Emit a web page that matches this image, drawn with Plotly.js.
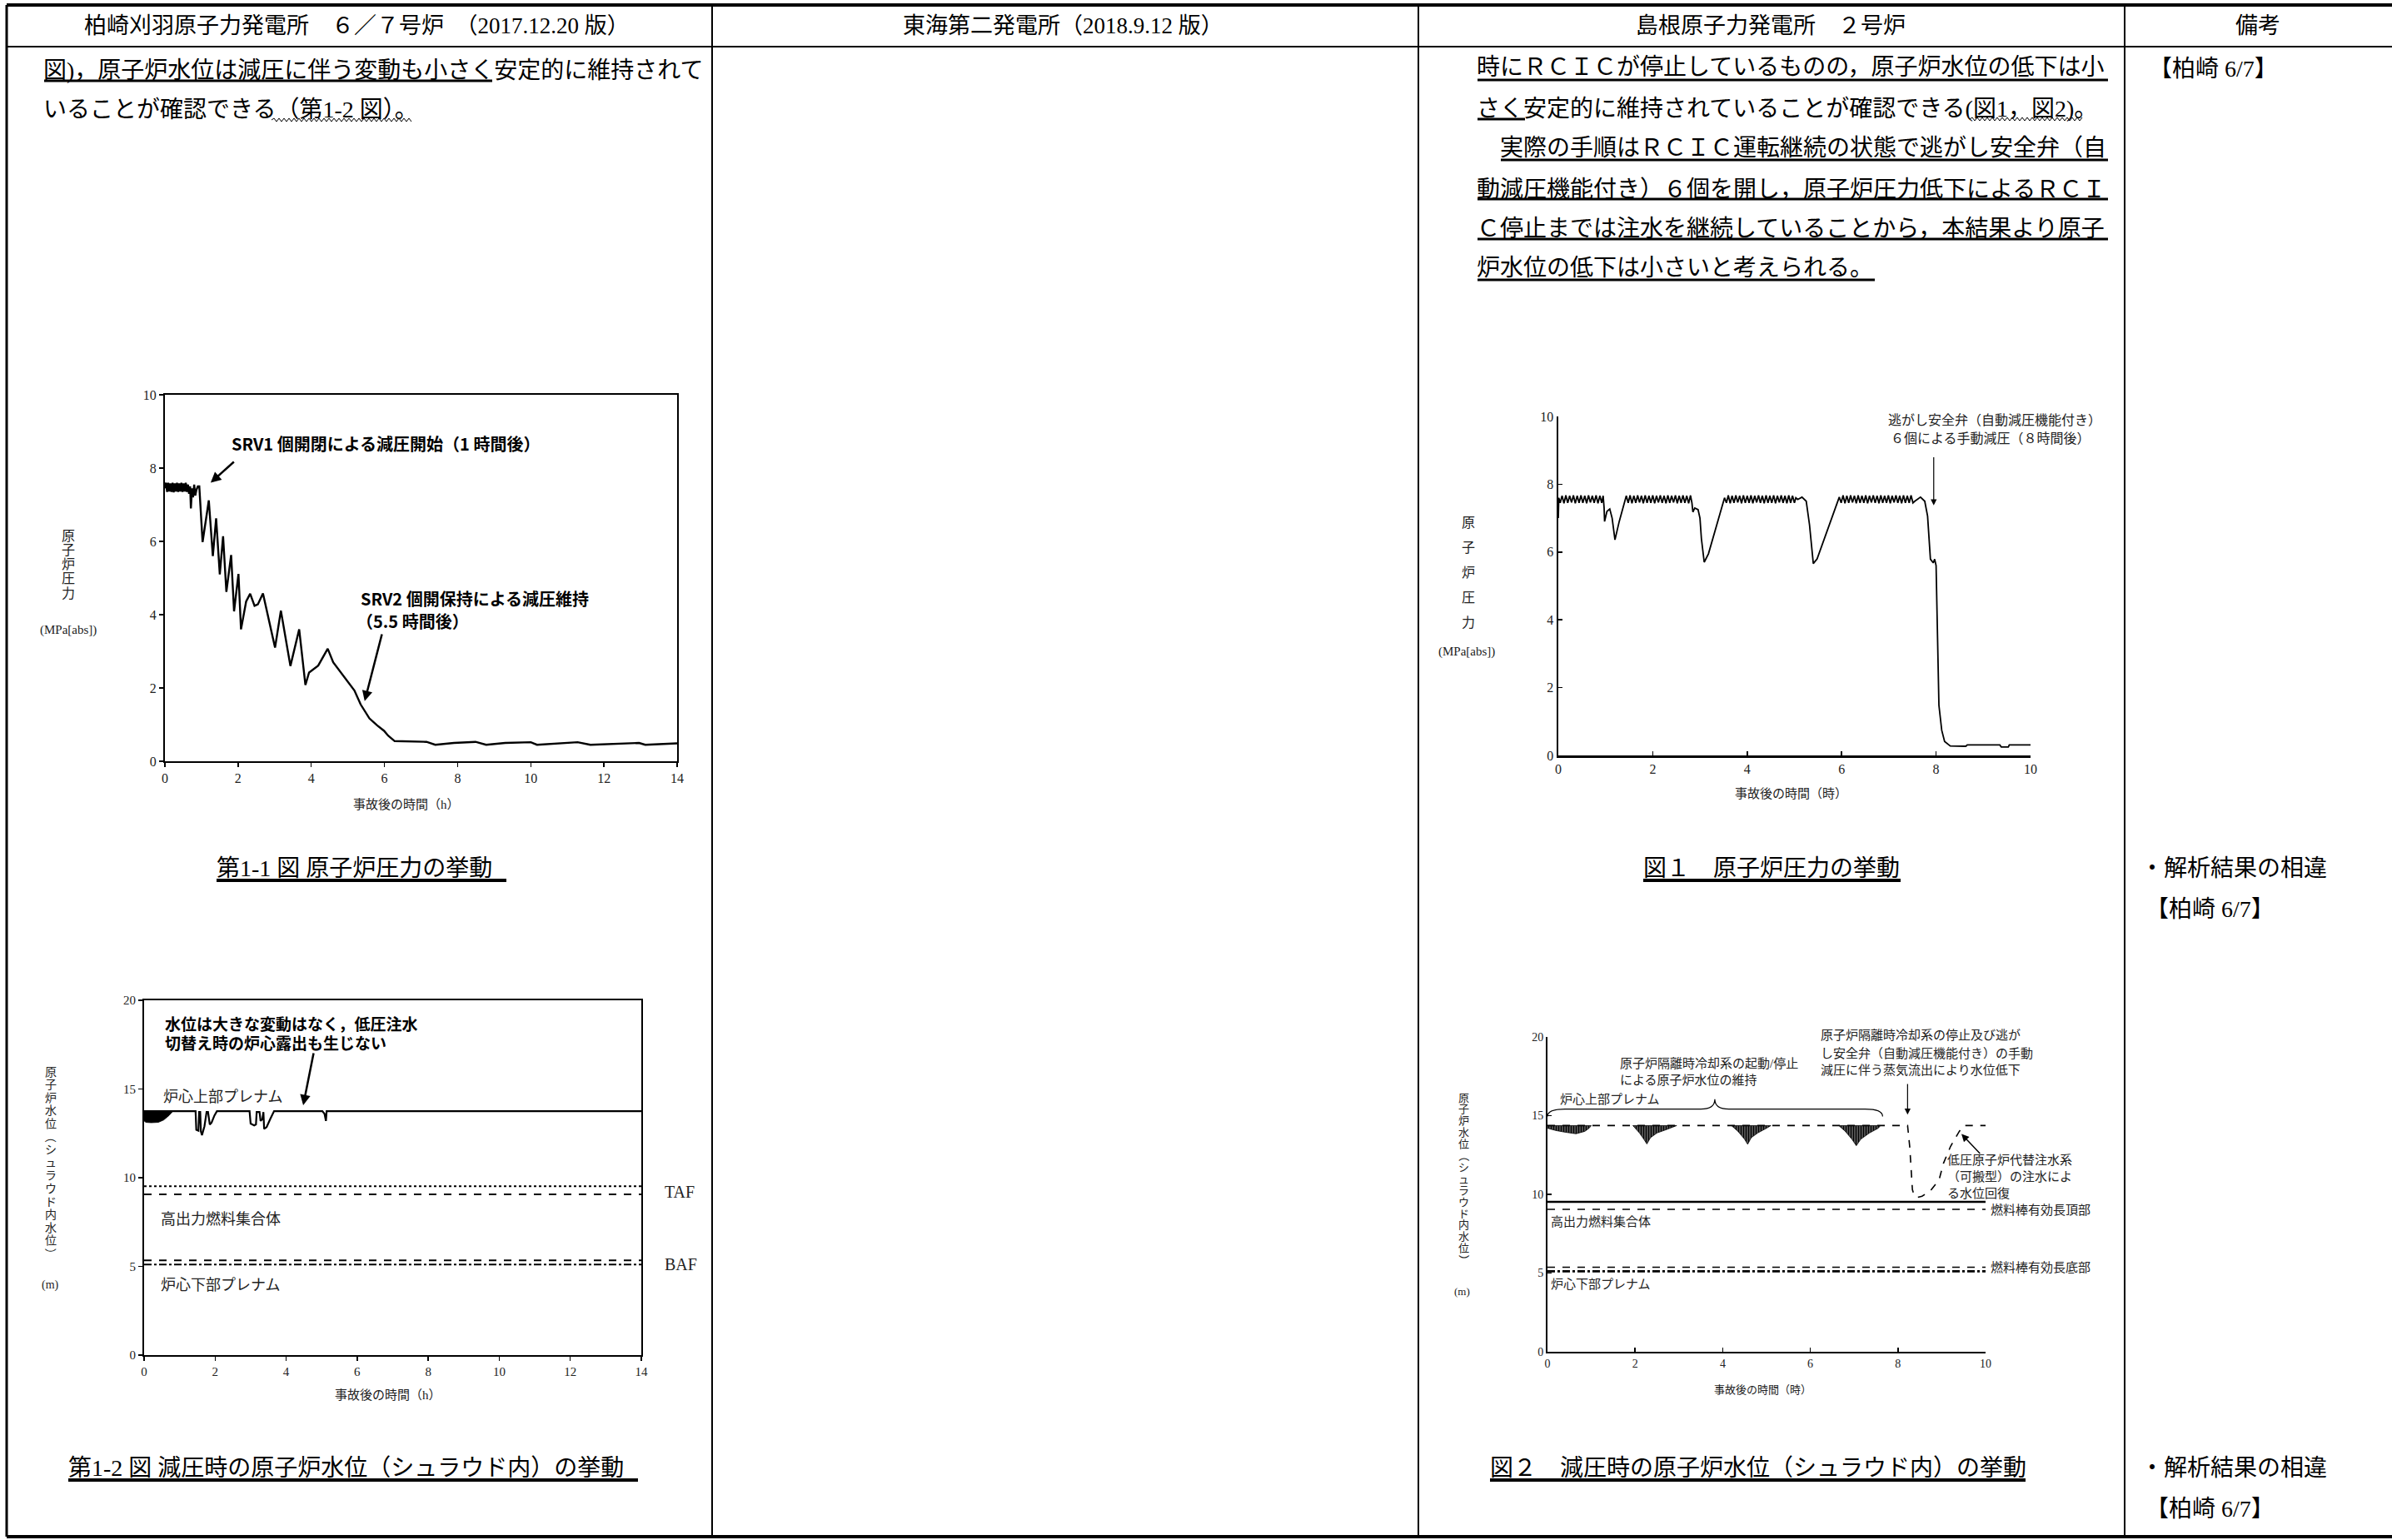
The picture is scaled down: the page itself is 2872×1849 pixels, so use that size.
<!DOCTYPE html>
<html><head><meta charset="utf-8">
<script src="https://cdn.plot.ly/plotly-3.0.1.min.js"></script>
<style>html,body{margin:0;padding:0;background:#fff}#chart{width:2872px;height:1849px}</style>
</head><body><div id="chart"></div>
<script>
const W = 2872, H = 1849;
const SERIF = '"Liberation Serif","Noto Sans CJK JP",serif';
const GOTH = '"Noto Sans CJK JP",sans-serif';

// ===== Data: 柏崎刈羽 原子炉圧力 (第1-1図) =====
const kkPresTime = [0,0.03,0.06,0.09,0.12,0.15,0.18,0.21,0.24,0.27,0.30,0.33,0.36,0.39,0.42,0.45,0.48,0.51,0.54,0.57,0.60,0.63,0.66,0.69,0.71,0.74,0.77,0.80,0.83,0.86,0.90,0.94,1.03,1.20,1.31,1.40,1.50,1.59,1.68,1.81,1.89,2.01,2.08,2.22,2.33,2.45,2.54,2.68,3.01,3.17,3.43,3.67,3.84,3.94,4.19,4.45,4.60,4.90,5.18,5.35,5.59,5.80,5.99,6.10,6.28,7.15,7.39,7.90,8.49,8.78,9.30,10.00,10.17,11.28,11.63,12.96,13.13,14.00];
const kkPresVal  = [7.45,7.60,7.35,7.60,7.36,7.58,7.35,7.60,7.34,7.58,7.36,7.60,7.35,7.58,7.36,7.60,7.35,7.58,7.36,7.60,7.35,7.55,7.30,7.50,6.90,7.45,7.20,7.55,7.25,7.40,7.50,7.50,5.98,7.12,5.60,6.63,5.10,6.14,4.62,5.63,4.09,5.11,3.60,4.36,4.57,4.24,4.28,4.58,3.10,4.11,2.60,3.60,2.08,2.42,2.61,3.07,2.70,2.30,1.93,1.55,1.17,0.98,0.83,0.70,0.55,0.53,0.45,0.50,0.53,0.45,0.50,0.52,0.45,0.52,0.45,0.50,0.45,0.49];

// ===== Data: 柏崎刈羽 原子炉水位 (第1-2図) =====
const kkLevelTime = [0,0.8,1.45,1.47,1.53,1.55,1.58,1.60,1.63,1.70,1.76,1.80,1.85,1.90,1.98,2.05,2.97,3.00,3.10,3.15,3.17,3.25,3.28,3.33,3.36,3.38,3.45,3.55,3.66,5.02,5.08,5.12,5.14,14];
const kkLevelVal  = [13.75,13.75,13.75,12.70,12.65,13.70,13.70,12.60,12.40,12.90,13.70,13.70,13.00,13.10,13.50,13.75,13.75,13.05,12.95,13.00,13.70,13.70,13.20,13.30,13.70,12.75,12.85,13.30,13.75,13.75,13.60,13.20,13.75,13.75];
const kkNormalLevel = 13.75;
const kkBlobTime = [0,0.05,0.20,0.40,0.55,0.70,0.80];
const kkBlobLow  = [13.20,13.12,13.10,13.12,13.25,13.50,13.72];
const kkRefNames  = ['TAF上','TAF','BAF上','BAF'];
const kkRefLevels = [9.52, 9.06, 5.34, 5.10];
const kkRefDash   = ['dot','dash','dash','dashdot'];
const kkTimeMax = 14;

// ===== Data: 島根 原子炉圧力 (図1) =====
const smPresPoints = [[0,7.0],[0.01,7.6],[0.04,7.45],[0.08,7.66],[0.12,7.44],[0.16,7.67],[0.20,7.45],[0.24,7.66],[0.28,7.46],[0.32,7.67],[0.36,7.44],[0.40,7.66],[0.44,7.45],[0.48,7.67],[0.52,7.45],[0.56,7.66],[0.60,7.44],[0.64,7.67],[0.68,7.46],[0.72,7.66],[0.76,7.45],[0.80,7.67],[0.84,7.44],[0.88,7.66],[0.92,7.45],[0.95,7.66],
[0.97,7.30],[0.98,6.90],[1.03,7.20],[1.09,7.27],[1.14,7.00],[1.20,6.36],[1.29,6.90],[1.40,7.50],
[1.44,7.66],[1.48,7.45],[1.52,7.67],[1.56,7.44],[1.60,7.66],[1.64,7.45],[1.68,7.67],[1.72,7.46],[1.76,7.66],[1.80,7.44],[1.84,7.67],[1.88,7.45],[1.92,7.66],[1.96,7.45],[2.00,7.67],[2.04,7.44],[2.08,7.66],[2.12,7.46],[2.16,7.67],[2.20,7.45],[2.24,7.66],[2.28,7.44],[2.32,7.67],[2.36,7.45],[2.40,7.66],[2.44,7.46],[2.48,7.67],[2.52,7.44],[2.56,7.66],[2.60,7.45],[2.64,7.67],[2.68,7.45],[2.72,7.66],[2.76,7.44],[2.80,7.67],[2.83,7.45],
[2.85,7.18],[2.89,7.30],[2.96,7.25],[3.00,7.00],[3.03,6.40],[3.09,5.70],[3.18,5.95],[3.52,7.60],
[3.56,7.45],[3.60,7.67],[3.64,7.44],[3.68,7.66],[3.72,7.45],[3.76,7.67],[3.80,7.46],[3.84,7.66],[3.88,7.44],[3.92,7.67],[3.96,7.45],[4.00,7.66],[4.04,7.45],[4.08,7.67],[4.12,7.44],[4.16,7.66],[4.20,7.46],[4.24,7.67],[4.28,7.45],[4.32,7.66],[4.36,7.44],[4.40,7.67],[4.44,7.45],[4.48,7.66],[4.52,7.45],[4.56,7.67],[4.60,7.44],[4.64,7.66],[4.68,7.46],[4.72,7.67],[4.76,7.45],[4.80,7.66],[4.84,7.44],[4.88,7.67],[4.92,7.45],[4.96,7.66],[5.00,7.45],[5.03,7.60],
[5.07,7.55],[5.16,7.62],[5.25,7.50],[5.32,6.80],[5.40,5.66],[5.48,5.80],[5.95,7.62],
[5.99,7.45],[6.03,7.67],[6.07,7.44],[6.11,7.66],[6.15,7.45],[6.19,7.67],[6.23,7.46],[6.27,7.66],[6.31,7.44],[6.35,7.67],[6.39,7.45],[6.43,7.66],[6.47,7.45],[6.51,7.67],[6.55,7.44],[6.59,7.66],[6.63,7.46],[6.67,7.67],[6.71,7.45],[6.75,7.66],[6.79,7.44],[6.83,7.67],[6.87,7.45],[6.91,7.66],[6.95,7.45],[6.99,7.67],[7.03,7.44],[7.07,7.66],[7.11,7.46],[7.15,7.67],[7.19,7.45],[7.23,7.66],[7.27,7.44],[7.31,7.67],[7.35,7.45],[7.39,7.66],[7.43,7.45],[7.47,7.67],[7.51,7.45],[7.55,7.50],
[7.67,7.62],[7.76,7.50],[7.82,7.06],[7.88,5.79],[7.94,5.68],[7.97,5.79],[8.00,5.60],[8.03,3.10],[8.06,1.48],[8.12,0.74],[8.18,0.41],[8.30,0.28],[8.63,0.27],[8.66,0.31],[9.35,0.31],[9.38,0.25],[9.53,0.25],[9.55,0.31],[10.0,0.31]];

// ===== Data: 島根 原子炉水位 (図2) =====
const smLevelTime = [0,8.22,8.27,8.30,8.33,8.37,8.44,8.55,8.74,8.94,9.04,9.20,9.40,9.50,10];
const smLevelVal  = [14.37,14.37,13.0,11.5,10.3,9.95,9.80,9.88,10.22,10.93,11.98,13.04,14.0,14.37,14.37];
const smNormalLevel = 14.37;
const smDipTimes = [
  [0,0.2,0.4,0.65,0.85,0.95,1.0],
  [1.95,2.1,2.2,2.27,2.35,2.5,2.7,2.9,2.95],
  [4.2,4.35,4.5,4.57,4.65,4.8,5.0,5.1],
  [6.65,6.8,6.95,7.05,7.15,7.35,7.55,7.6]];
const smDipLows = [
  [14.2,14.05,13.95,13.85,14.0,14.2,14.37],
  [14.37,13.9,13.5,13.2,13.6,13.9,14.1,14.3,14.37],
  [14.37,14.0,13.5,13.18,13.6,13.9,14.2,14.37],
  [14.37,14.0,13.5,13.09,13.5,13.9,14.2,14.37]];
const smRefLevels = [9.52, 9.05, 5.37, 5.11];
const smRefDash   = ['solid','dash','dash','dashdot'];
const smTimeMax = 10;

// ===== helpers =====
const traces = [];
function lineTrace(ax, x, y, width, dash) {
  traces.push({type:'scatter', mode:'lines', xaxis:'x'+ax, yaxis:'y'+ax, x, y,
    line:{color:'#000', width, dash}, hoverinfo:'skip', showlegend:false});
}
function polyTrace(ax, t, low, top, pattern) {
  const x = t.concat(t.slice().reverse());
  const y = low.concat(t.map(() => top));
  const tr = {type:'scatter', mode:'lines', xaxis:'x'+ax, yaxis:'y'+ax, x, y, fill:'toself',
    fillcolor:'#000', line:{color:'#000', width:0.8}, hoverinfo:'skip', showlegend:false};
  if (pattern) { tr.fillpattern = {shape:'|', size:3, solidity:0.8, fgcolor:'#000', bgcolor:'rgba(255,255,255,0)'}; tr.fillcolor='rgba(0,0,0,0)'; }
  traces.push(tr);
}

// Chart 1
lineTrace('', kkPresTime, kkPresVal, 2.4, 'solid');
// Chart 2
kkRefLevels.forEach((v,i) => lineTrace('2', [0,kkTimeMax], [v,v], 2, kkRefDash[i]));
polyTrace('2', kkBlobTime, kkBlobLow, kkNormalLevel, false);
lineTrace('2', kkLevelTime, kkLevelVal, 2.2, 'solid');
// Chart 3
lineTrace('3', smPresPoints.map(p=>p[0]), smPresPoints.map(p=>p[1]), 1.8, 'solid');
// Chart 4
smRefLevels.forEach((v,i) => lineTrace('4', [0,smTimeMax], [v,v], i===0?2.4:(i===3?2.6:1.6), smRefDash[i]));
smDipTimes.forEach((t,i) => polyTrace('4', t, smDipLows[i], smNormalLevel, true));
lineTrace('4', smLevelTime, smLevelVal, 1.6, 'dash');

// ===== layout =====
const tickFont = (s) => ({family:'"Liberation Serif",serif', size:s, color:'#222'});
function axis(domainPx, isY, range, dtick, anchor, o) {
  const d = isY ? [1-domainPx[1]/H, 1-domainPx[0]/H] : [domainPx[0]/W, domainPx[1]/W];
  return Object.assign({domain:d, range, dtick, tick0:0, anchor, showgrid:false, zeroline:false,
    showline:true, linecolor:'#000', linewidth:2, ticks:'outside', ticklen:5, tickwidth:1.5,
    tickcolor:'#000', tickfont:tickFont(16), fixedrange:true}, o||{});
}

const annotations = [];
function paperText(text, px, py, size, anchor, extra) {
  annotations.push(Object.assign({xref:'paper', yref:'paper', x:px/W, y:1-py/H, text, showarrow:false,
    xanchor:anchor||'left', yanchor:'middle', font:{family:SERIF, size, color:'#000'}}, extra||{}));
}
function dataText(ax, text, x, y, size, extra) {
  annotations.push(Object.assign({xref:'x'+ax, yref:'y'+ax, x, y, text, showarrow:false,
    xanchor:'left', yanchor:'middle', font:{family:SERIF, size, color:'#222'}}, extra||{}));
}
function arrow(ax, head, tail, width, hs, size) {
  annotations.push({xref:'x'+ax, yref:'y'+ax, x:head[0], y:head[1], axref:'x'+ax, ayref:'y'+ax,
    ax:tail[0], ay:tail[1], text:'', showarrow:true, arrowhead:hs, arrowsize:size, arrowwidth:width,
    arrowcolor:'#000', standoff:0, startstandoff:0});
}
function stacked(chars, px, py0, step, size) {
  Array.from(chars).forEach((c,i) => {
    const rot = (c==='（'||c==='）') ? 90 : 0;
    paperText(c, px, py0 + i*step, size, 'center', {textangle:rot, font:{family:SERIF, size, color:'#222'}});
  });
}
const gray = (s, fam) => ({font:{family:fam||SERIF, size:s, color:'#222'}});

// Header
paperText('柏崎刈羽原子力発電所　６／７号炉　（2017.12.20 版）', 428, 31, 27, 'center');
paperText('東海第二発電所（2018.9.12 版）', 1276, 31, 27, 'center');
paperText('島根原子力発電所　２号炉', 2126, 31, 27, 'center');
paperText('備考', 2711, 31, 27, 'center');

// Body text left
paperText('図)，原子炉水位は減圧に伴う変動も小さく安定的に維持されて', 50, 84, 28);
paperText('いることが確認できる（第1-2 図）。', 50, 132, 28);
// Body text right
const rightLines = ['時にＲＣＩＣが停止しているものの，原子炉水位の低下は小',
  'さく安定的に維持されていることが確認できる(図1，図2)。',
  '　実際の手順はＲＣＩＣ運転継続の状態で逃がし安全弁（自',
  '動減圧機能付き）６個を開し，原子炉圧力低下によるＲＣＩ',
  'Ｃ停止までは注水を継続していることから，本結果より原子',
  '炉水位の低下は小さいと考えられる。'];
const rightY = [81, 130, 178, 227, 275, 322];
rightLines.forEach((t,i) => paperText(t, 1771, rightY[i], 28));

// Remarks column
paperText('【柏崎 6/7】', 2578, 82, 28);
paperText('・解析結果の相違', 2568, 1042, 28);
paperText('【柏崎 6/7】', 2574, 1091, 28);
paperText('・解析結果の相違', 2568, 1762, 28);
paperText('【柏崎 6/7】', 2574, 1811, 28);

// Captions
paperText('第1-1 図 原子炉圧力の挙動', 258, 1042, 28);
paperText('図１　原子炉圧力の挙動', 1971, 1042, 28);
paperText('第1-2 図 減圧時の原子炉水位（シュラウド内）の挙動', 80, 1762, 28);
paperText('図２　減圧時の原子炉水位（シュラウド内）の挙動', 1787, 1762, 28);

// Chart 1 texts
paperText('事故後の時間（h）', 488, 966, 15, 'center', gray(15));
stacked('原子炉圧力', 82, 643, 17.3, 16);
paperText('(MPa[abs])', 82, 756, 15, 'center', gray(15));
dataText('', '<b>SRV1 個開閉による減圧開始（1 時間後）</b>', 1.78, 8.66, 20, {font:{family:GOTH,size:20,color:'#000'}});
dataText('', '<b>SRV2 個開保持による減圧維持</b>', 5.31, 4.45, 20, {font:{family:GOTH,size:20,color:'#000'}});
dataText('', '<b>（5.5 時間後）</b>', 5.2, 3.84, 20, {font:{family:GOTH,size:20,color:'#000'}});
arrow('', [1.25,7.6], [1.92,8.2], 2.5, 2, 1);
arrow('', [5.46,1.64], [5.94,3.5], 2.5, 2, 1);

// Chart 2 texts
paperText('事故後の時間（h）', 466, 1675, 15, 'center', gray(15));
stacked('原子炉水位（シュラウド内水位）', 61, 1287, 15.6, 14);
paperText('(m)', 61, 1543, 14, 'center', gray(14));
dataText('2', '<b>水位は大きな変動はなく，低圧注水</b>', 0.55, 18.73, 19, {font:{family:GOTH,size:19,color:'#000'}});
dataText('2', '<b>切替え時の炉心露出も生じない</b>', 0.55, 17.65, 19, {font:{family:GOTH,size:19,color:'#000'}});
dataText('2', '炉心上部プレナム', 0.5, 14.55, 18);
dataText('2', '高出力燃料集合体', 0.42, 7.65, 18);
dataText('2', '炉心下部プレナム', 0.42, 3.94, 18);
paperText('TAF', 796, 1431, 20, 'left', gray(20, '"Liberation Serif",serif'));
paperText('BAF', 796, 1518, 20, 'left', gray(20, '"Liberation Serif",serif'));
arrow('2', [4.48,14.08], [4.78,17.09], 2.5, 2, 1);

// Chart 3 texts
paperText('事故後の時間（時）', 2150, 953, 15, 'center', gray(15));
stacked('原子炉圧力', 1763, 627, 30.2, 16);
paperText('(MPa[abs])', 1761, 782, 15, 'center', gray(15));
dataText('3', '逃がし安全弁（自動減圧機能付き）', 6.95, 9.88, 16);
dataText('3', '６個による手動減圧（８時間後）', 7.0, 9.34, 16);
arrow('3', [7.95,7.38], [7.95,8.83], 1.2, 2, 1.2);

// Chart 4 texts
paperText('事故後の時間（時）', 2116, 1668, 13, 'center', gray(13));
stacked('原子炉水位（シュラウド内水位）', 1757, 1318, 13.9, 13);
paperText('(m)', 1755, 1550, 13, 'center', gray(13));
dataText('4', '炉心上部プレナム', 0.25, 16.03, 15);
dataText('4', '原子炉隔離時冷却系の起動/停止', 1.62, 18.3, 15);
dataText('4', 'による原子炉水位の維持', 1.62, 17.25, 15);
paperText('原子炉隔離時冷却系の停止及び逃が', 2184, 1243, 15, 'left', gray(15));
dataText('4', 'し安全弁（自動減圧機能付き）の手動', 6.2, 18.94, 15);
dataText('4', '減圧に伴う蒸気流出により水位低下', 6.2, 17.88, 15);
dataText('4', '低圧原子炉代替注水系', 9.08, 12.17, 15);
dataText('4', '（可搬型）の注水によ', 9.08, 11.12, 15);
dataText('4', 'る水位回復', 9.08, 10.06, 15);
dataText('4', '高出力燃料集合体', 0.04, 8.26, 15);
dataText('4', '炉心下部プレナム', 0.04, 4.3, 15);
paperText('燃料棒有効長頂部', 2388, 1452, 15, 'left', gray(15));
paperText('燃料棒有効長底部', 2388, 1521, 15, 'left', gray(15));
arrow('4', [8.22,15.07], [8.22,17.09], 1.2, 2, 1.2);
arrow('4', [9.45,13.83], [9.9,12.51], 1.5, 2, 1.2);

// ===== shapes =====
const shapes = [];
function pline(x0,y0,x1,y1,w) {
  shapes.push({type:'line', xref:'paper', yref:'paper', x0:x0/W, y0:1-y0/H, x1:x1/W, y1:1-y1/H, line:{color:'#000', width:w}});
}
function wavy(x0,x1,y) {
  let d = `M${x0/W},${1-y/H}`; let up = true;
  for (let x = x0+3; x <= x1; x += 3) { d += ` L${x/W},${1-(y+(up?-2:2))/H}`; up = !up; }
  shapes.push({type:'path', path:d, xref:'paper', yref:'paper', line:{color:'#000', width:1}});
}
// table
pline(8,6,2872,6,4);
pline(8,56,2872,56,2);
pline(8,1845,2872,1845,4);
pline(8,6,8,1845,3);
[855,1703,2551].forEach(x => pline(x,6,x,1845,2));
// underlines
pline(53,97,591,97,3);
wavy(326,495,144);
pline(1774,96,2531,96,3);
pline(1774,143,1831,143,3);
wavy(2365,2502,143);
pline(1802,192,2531,192,3);
pline(1774,239,2531,239,3);
pline(1774,287,2531,287,3);
pline(1774,336,2251,336,3);
pline(260,1057,608,1057,4);
pline(1973,1057,2282,1057,4);
pline(82,1777,766,1777,4);
pline(1789,1777,2432,1777,4);
// brace on chart 4
const bx0 = 0, bx1 = 7.65, bm = 3.82, byEnd = 14.95, byBar = 15.42, byTop = 16.05;
shapes.push({type:'path', xref:'x4', yref:'y4', line:{color:'#000', width:1.2},
  path:`M${bx0},${byEnd} Q${bx0},${byBar} ${bx0+0.4},${byBar} L${bm-0.32},${byBar} Q${bm},${byBar} ${bm},${byTop} Q${bm},${byBar} ${bm+0.32},${byBar} L${bx1-0.4},${byBar} Q${bx1},${byBar} ${bx1},${byEnd}`});

const layout = {
  width:W, height:H, margin:{l:0,r:0,t:0,b:0}, paper_bgcolor:'#fff', plot_bgcolor:'rgba(0,0,0,0)',
  showlegend:false, hovermode:false,
  xaxis:  axis([198,813], false, [0,14], 2, 'y', {mirror:true}),
  yaxis:  axis([474,914], true, [0,10], 2, 'x', {mirror:true}),
  xaxis2: axis([173,770], false, [0,14], 2, 'y2', {mirror:true, tickfont:tickFont(15)}),
  yaxis2: axis([1201,1627], true, [0,20], 5, 'x2', {mirror:true, tickfont:tickFont(15)}),
  xaxis3: axis([1871,2438], false, [0,10], 2, 'y3', {ticks:'inside', linewidth:2.5}),
  yaxis3: axis([500,907], true, [0,10], 2, 'x3', {ticks:'inside', linewidth:2.5}),
  xaxis4: axis([1858,2384], false, [0,10], 2, 'y4', {ticks:'inside', tickfont:tickFont(14)}),
  yaxis4: axis([1245,1623], true, [0,20], 5, 'x4', {ticks:'inside', tickfont:tickFont(14)}),
  annotations, shapes
};
Plotly.newPlot('chart', traces, layout, {staticPlot:true, displayModeBar:false});
</script>
</body></html>
